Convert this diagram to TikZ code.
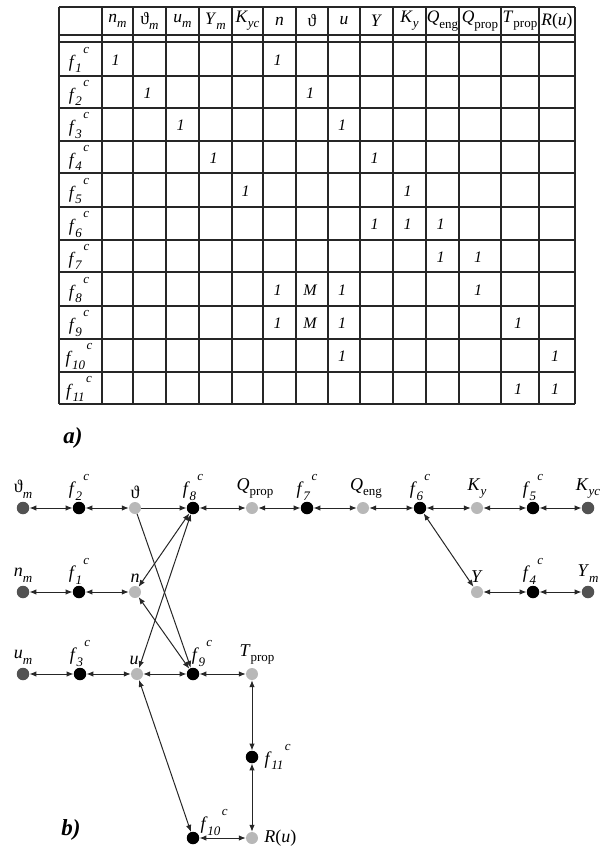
\documentclass[tikz,border=0pt]{standalone}
\usepackage{fontspec}
\setmainfont{Liberation Serif}
\usetikzlibrary{arrows.meta}

% f-nodes: italic f with subscript index and raised superscript c
\newcommand\fc[1]{\textit{f}\kern-0.02em\raisebox{-0.32em}{\fontsize{13}{13}\selectfont\textit{#1}}\kern0.08em\raisebox{0.78em}{\fontsize{13}{13}\selectfont\textit{c}}}
\newcommand\sbs[1]{\raisebox{-0.3em}{\fontsize{13}{13}\selectfont #1}}
\newcommand\vth{ϑ}

\begin{document}
\begin{tikzpicture}[x=1pt,y=-1pt,
  txt/.style={font=\fontsize{17.5}{20}\selectfont,inner sep=0pt},
  ent/.style={font=\fontsize{16}{18}\selectfont\itshape,inner sep=0pt},
  tline/.style={line width=1.2pt,black!85},
  fn/.style={circle,fill=black,inner sep=0pt,minimum size=12.5pt},
  vn/.style={circle,fill=black!28,inner sep=0pt,minimum size=12pt},
  mn/.style={circle,fill=black!68,inner sep=0pt,minimum size=12.5pt},
  lab/.style={font=\fontsize{18}{20}\selectfont,inner sep=0pt,label distance=3pt},
  tip/.tip={Latex[length=7pt,width=5.5pt]},
  edge/.style={line width=1pt,black!85,tip-tip},
  oneway/.style={line width=1pt,black!85,-tip},
  panel/.style={font=\fontsize{23}{25}\selectfont\bfseries\itshape,inner sep=0pt}]
\useasboundingbox (0,0) rectangle (600,848);
\clip (0,0) rectangle (600,848);

% ---------------- incidence table ----------------
\foreach \x in {102,133,166,199,232,296,328,360,393,426,459,501,539}
  \draw[tline] (\x,7) -- (\x,404);
\draw[line width=1.9pt,black!85] (263,7) -- (263,404);
\draw[line width=1.7pt,black!85] (59,7) -- (59,404) (575,7) -- (575,404);
\foreach \y in {76,108,141,173,207,240,272,306,339,372}
  \draw[tline] (59,\y) -- (575,\y);
\draw[line width=1.6pt,black!85] (59,7) -- (575,7) (59,404) -- (575,404);
\draw[tline] (59,35) -- (575,35) (59,42) -- (575,42);

% column headings
\node[txt] (h1)  at (117.5,21) {\textit{n}\sbs{\textit{m}}};
\node[txt] (h2)  at (149.5,21) {\vth\sbs{\textit{m}}};
\node[txt] (h3)  at (182.5,21) {\textit{u}\sbs{\textit{m}}};
\node[txt] (h4)  at (215.5,21) {\textit{Y}\sbs{\textit{m}}};
\node[txt] (h5)  at (247.5,21) {\textit{K}\sbs{\textit{yc}}};
\node[txt] (h6)  at (279.5,21) {\textit{n}};
\node[txt] (h7)  at (312,21)   {\vth};
\node[txt] (h8)  at (344,21)   {\textit{u}};
\node[txt] (h9)  at (376.5,21) {\textit{Y}};
\node[txt] (h10) at (409.5,21) {\textit{K}\sbs{\textit{y}}};
\node[txt] (h11) at (442.5,21) {\textit{Q}\sbs{eng}};
\node[txt] (h12) at (480,21)   {\textit{Q}\sbs{prop}};
\node[txt] (h13) at (520,21)   {\textit{T}\sbs{prop}};
\node[txt] (h14) at (557,21)   {\textit{R}(\textit{u})};

% row headings
\foreach \r/\yy in {1/59,2/92,3/124.5,4/157,5/190,6/223.5,7/256,8/289,9/322.5,10/355.5,11/388}
  \node[txt] (r\r) at (79,\yy+1) {\fc{\r}};

% entries: row/column/text
\def\colx{{80.5,117.5,149.5,182.5,215.5,247.5,279.5,312,344,376.5,409.5,442.5,480,520,557}}
\def\rowy{{21,59,92,124.5,157,190,223.5,256,289,322.5,355.5,388}}
\foreach \r/\c/\t in {1/1/1,1/6/1,2/2/1,2/7/1,3/3/1,3/8/1,4/4/1,4/9/1,5/5/1,5/10/1,
    6/9/1,6/10/1,6/11/1,7/11/1,7/12/1,8/6/1,8/7/M,8/8/1,8/12/1,
    9/6/1,9/7/M,9/8/1,9/13/1,10/8/1,10/14/1,11/13/1,11/14/1}{
  \pgfmathsetmacro\cx{\colx[\c]}
  \pgfmathsetmacro\cy{\rowy[\r]}
  \node[ent] (e-\r-\c) at (\cx-2,\cy+1) {\t};
}

\node[panel] (pa) at (73,438) {a)};
\node[panel] (pb) at (71,830) {b)};

% ---------------- bipartite graph ----------------
% upper row
\node[mn] (thm) at (23,508)  [label={[lab]above:\vth\sbs{\textit{m}}}] {};
\node[fn] (f2)  at (79,508)  [label={[lab,label distance=1pt]above:\fc{2}}] {};
\node[vn] (th)  at (135,508) [label={[lab]above:\vth}] {};
\node[fn] (f8)  at (193,508) [label={[lab,label distance=1pt]above:\fc{8}}] {};
\node[vn] (Qp)  at (252,508) [label={[lab,xshift=3pt]above:\textit{Q}\sbs{prop}}] {};
\node[fn] (f7)  at (307,508) [label={[lab,label distance=1pt]above:\fc{7}}] {};
\node[vn] (Qe)  at (363,508) [label={[lab,xshift=3pt]above:\textit{Q}\sbs{eng}}] {};
\node[fn] (f6)  at (420,508) [label={[lab,label distance=1pt]above:\fc{6}}] {};
\node[vn] (Ky)  at (477,508) [label={[lab]above:\textit{K}\sbs{\textit{y}}}] {};
\node[fn] (f5)  at (533,508) [label={[lab,label distance=1pt]above:\fc{5}}] {};
\node[mn] (Kyc) at (588,508) [label={[lab]above:\textit{K}\sbs{\textit{yc}}}] {};
% middle row
\node[mn] (nm)  at (23,592)  [label={[lab]above:\textit{n}\sbs{\textit{m}}}] {};
\node[fn] (f1)  at (79,592)  [label={[lab,label distance=1pt]above:\fc{1}}] {};
\node[vn] (n)   at (135,592) [label={[lab]above:\textit{n}}] {};
\node[vn] (Y)   at (477,592) [label={[lab]above:\textit{Y}}] {};
\node[fn] (f4)  at (533,592) [label={[lab,label distance=1pt]above:\fc{4}}] {};
\node[mn] (Ym)  at (588,592) [label={[lab]above:\textit{Y}\sbs{\textit{m}}}] {};
% lower row
\node[mn] (um)  at (23,674)  [label={[lab]above:\textit{u}\sbs{\textit{m}}}] {};
\node[fn] (f3)  at (80,674)  [label={[lab,label distance=1pt]above:\fc{3}}] {};
\node[vn] (u)   at (137,674) [label={[lab,xshift=-3pt]above:\textit{u}}] {};
\node[fn] (f9)  at (193,674) [label={[lab,label distance=1pt,xshift=9pt]above:\fc{9}}] {};
\node[vn] (Tp)  at (252,674) [label={[lab,xshift=5pt]above:\textit{T}\sbs{prop}}] {};
\node[fn] (f11) at (252,757) [label={[lab,label distance=6pt]right:\fc{11}}] {};
\node[fn] (f10) at (193,838) [label={[lab,label distance=-3pt,xshift=5pt]above right:\fc{10}}] {};
\node[vn] (Ru)  at (252,838) [label={[lab,label distance=6pt]right:\textit{R}(\textit{u})}] {};

% connectors
\draw[edge] (thm) -- (f2);
\draw[edge] (f2) -- (th);
\draw[oneway] (th) -- (f8);
\draw[edge] (f8) -- (Qp);
\draw[edge] (Qp) -- (f7);
\draw[edge] (f7) -- (Qe);
\draw[edge] (Qe) -- (f6);
\draw[edge] (f6) -- (Ky);
\draw[edge] (Ky) -- (f5);
\draw[edge] (f5) -- (Kyc);
\draw[edge] (nm) -- (f1);
\draw[edge] (f1) -- (n);
\draw[edge] (f6) -- (Y);
\draw[edge] (Y) -- (f4);
\draw[edge] (f4) -- (Ym);
\draw[edge] (um) -- (f3);
\draw[edge] (f3) -- (u);
\draw[edge] (u) -- (f9);
\draw[edge] (f9) -- (Tp);
\draw[edge] (Tp) -- (f11);
\draw[edge] (f11) -- (Ru);
\draw[edge] (Ru) -- (f10);
\draw[edge] (f10) -- (u);
\draw[oneway] (th) -- (f9);
\draw[edge] (n) -- (f8);
\draw[edge] (n) -- (f9);
\draw[edge] (u) -- (f8);
\end{tikzpicture}
\end{document}
